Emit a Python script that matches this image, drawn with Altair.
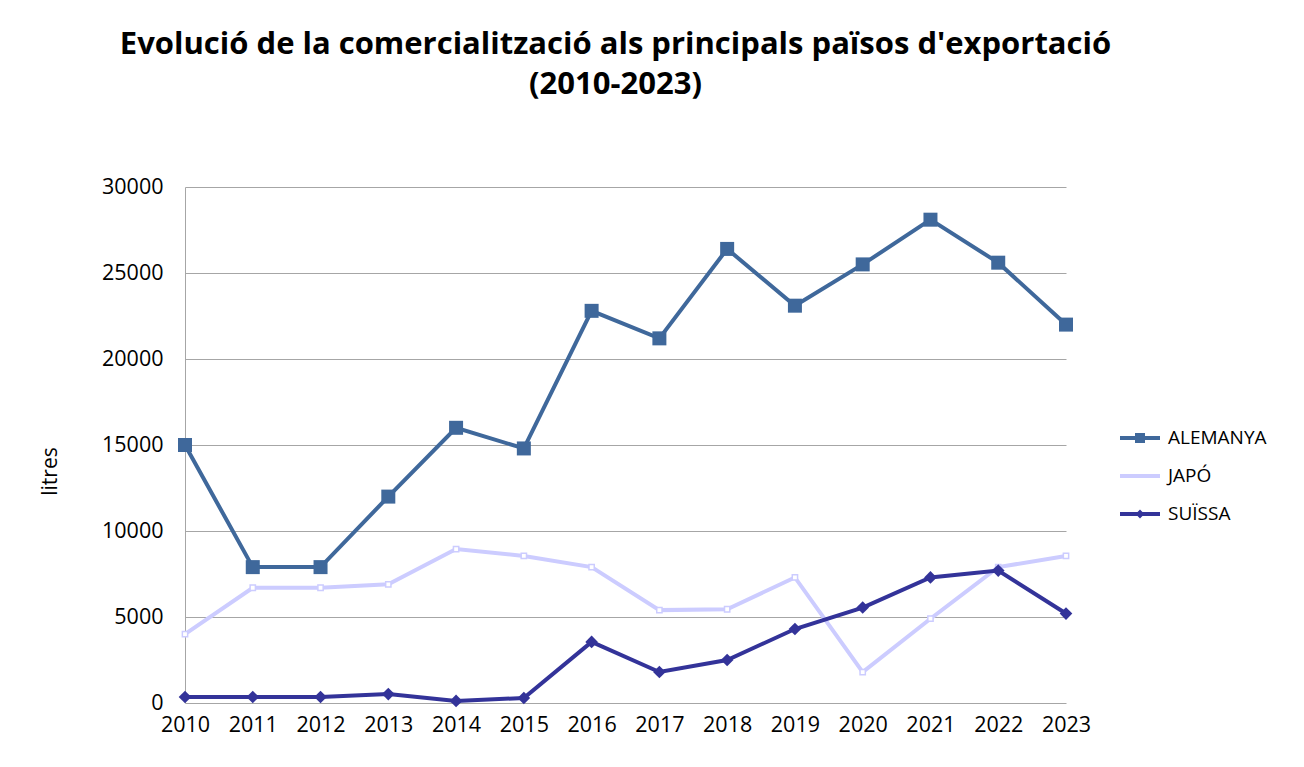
import altair as alt
import pandas as pd

years = list(range(2010, 2024))
series_names = ["ALEMANYA", "JAPÓ", "SUÏSSA"]
alemanya = [15000, 7900, 7900, 12000, 16000, 14800, 22800, 21200, 26400, 23100, 25500, 28100, 25600, 22000]
japo = [4000, 6700, 6700, 6900, 8950, 8550, 7900, 5400, 5450, 7300, 1800, 4900, 7900, 8550]
suissa = [350, 350, 350, 520, 120, 290, 3550, 1800, 2500, 4300, 5550, 7300, 7700, 5200]
colors = ["#3F689B", "#CCCCFF", "#333399"]

rows = []
for name, vals in zip(series_names, [alemanya, japo, suissa]):
    for y, v in zip(years, vals):
        rows.append({"any": y, "litres": v, "pais": name, "pais_l": name})
df = pd.DataFrame(rows)

FONT = "Open Sans"

x = alt.X("any:Q", scale=alt.Scale(domain=[2010, 2023], nice=False, zero=False),
          axis=alt.Axis(title=None, values=years, format="d", grid=False, ticks=False,
                        domain=False, labelFontSize=21.5, labelPadding=11, labelColor="#000000",
                        labelFont=FONT, labelFlush=False))
y = alt.Y("litres:Q", scale=alt.Scale(domain=[0, 30000], nice=False),
          axis=alt.Axis(title="litres", values=[0, 5000, 10000, 15000, 20000, 25000, 30000],
                        format="d", grid=True, gridColor="#A6A6A6", gridWidth=1,
                        ticks=False, domain=True, domainColor="#A6A6A6", domainWidth=1,
                        labelFontSize=21.5, labelPadding=22, labelColor="#000000", labelFont=FONT,
                        titleFont=FONT, titleFontSize=21, titleFontWeight="normal",
                        titleColor="#000000", titleX=-135, titleY=284, titleAngle=270,
                        titleAlign="center", titleBaseline="middle"))

color = alt.Color("pais:N", scale=alt.Scale(domain=series_names, range=colors), legend=None)

lines = alt.Chart(df).mark_line(strokeWidth=4).encode(x=x, y=y, color=color, detail="pais:N")

big = alt.Chart(df).transform_filter(alt.datum.pais != "JAPÓ").mark_point(filled=True, opacity=1).encode(
    x=x, y=y, color=color,
    shape=alt.Shape("pais:N", scale=alt.Scale(domain=["ALEMANYA", "SUÏSSA"], range=["square", "diamond"]), legend=None),
    size=alt.Size("pais:N", scale=alt.Scale(domain=["ALEMANYA", "SUÏSSA"], range=[196, 160]), legend=None),
)

small = alt.Chart(df).transform_filter(alt.datum.pais == "JAPÓ").mark_point(
    shape="square", size=28, filled=True, fill="#FFFFFF", stroke="#CCCCFF", strokeWidth=1.5, opacity=1
).encode(x=x, y=y)

bar = "M-1,-0.1H1V0.1H-1Z"
legend_shapes = [
    bar + " M-0.25,-0.25H0.25V0.25H-0.25Z",
    bar,
    bar + " M0,-0.22L0.22,0L0,0.22L-0.22,0Z",
]
leg = alt.Legend(title=None, orient="none", legendX=935, legendY=231,
                 symbolSize=1600, symbolOpacity=1, symbolStrokeWidth=0,
                 labelFontSize=19, labelFont=FONT, labelColor="#000000",
                 labelOffset=8, rowPadding=8)
# legend-only layer: no rows drawn, explicit domain keeps all entries in the legend
legend_layer = alt.Chart(df).transform_filter(alt.datum.litres < 0).mark_point(filled=True, opacity=1).encode(
    x=x, y=y,
    color=alt.Color("pais_l:N", scale=alt.Scale(domain=series_names, range=colors), legend=leg),
    shape=alt.Shape("pais_l:N", scale=alt.Scale(domain=series_names, range=legend_shapes), legend=leg),
)

chart = alt.layer(lines, small, big, legend_layer).resolve_scale(
    color="independent", shape="independent", size="independent"
).properties(
    width=881, height=516,
    title=alt.TitleParams(
        text=["Evolució de la comercialització als principals països d'exportació", "(2010-2023)"],
        font=FONT, fontSize=31, fontWeight="bold", color="#000000", anchor="middle",
        frame="group", dx=-10, offset=75, lineHeight=40,
    ),
    autosize=alt.AutoSizeParams(type="none"),
    padding={"left": 177, "top": 179, "right": 230, "bottom": 56},
).configure(background="#FFFFFF").configure_view(stroke=None)

chart.save("out.html", embed_options={"renderer": "svg", "actions": False})
